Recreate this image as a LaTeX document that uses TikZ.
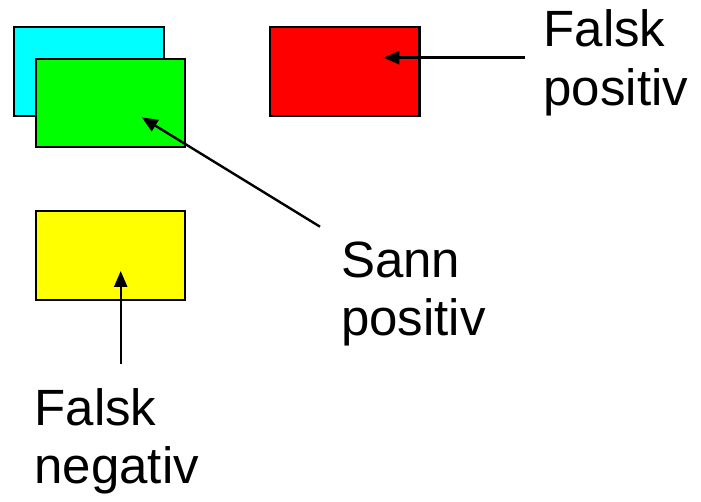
\documentclass[tikz,border=0pt]{standalone}
\usepackage{fontspec}
\setmainfont{Liberation Sans}
\usetikzlibrary{arrows.meta}
\definecolor{cCyan}{HTML}{00FFFF}
\definecolor{cGreen}{HTML}{00FF00}
\definecolor{cRed}{HTML}{FF0000}
\definecolor{cYellow}{HTML}{FFFF00}
\begin{document}
\begin{tikzpicture}[x=1pt,y=-1pt,
  box/.style={draw=black,line width=2.2pt,inner sep=0pt,minimum width=149.4pt,minimum height=88.7pt,anchor=center},
  lbl/.style={font=\fontsize{51}{58.5}\selectfont,align=left,inner sep=0pt,anchor=base west},
  ptr/.style={line width=2.4pt,-{Triangle[length=16pt,width=13pt]}}]
\useasboundingbox (0,0) rectangle (701,502);
\node[box,fill=cCyan]   (cyanbox)   at (89,71.35) {};
\node[box,fill=cGreen]  (greenbox)  at (110.5,103) {};
\node[box,fill=cRed]    (redbox)    at (344.85,71.35) {};
\node[box,fill=cYellow] (yellowbox) at (110.5,255.35) {};
\node[lbl] (fp) at (543.3,105.2) {Falsk\\positiv};
\node[lbl] (sp) at (341,335.5) {Sann\\positiv};
\node[lbl] (fn) at (34.3,483.5) {Falsk\\negativ};
\coordinate (fpTail) at (525,57.7);
\coordinate (fpTip) at (383.3,57.7);
\coordinate (spTail) at (320,226.7);
\coordinate (spTip) at (141.7,117.3);
\coordinate (fnTail) at (120.7,364);
\coordinate (fnTip) at (120.7,271);
\draw[ptr] (fpTail) -- (fpTip);
\draw[ptr] (spTail) -- (spTip);
\draw[ptr] (fnTail) -- (fnTip);
\end{tikzpicture}
\end{document}
